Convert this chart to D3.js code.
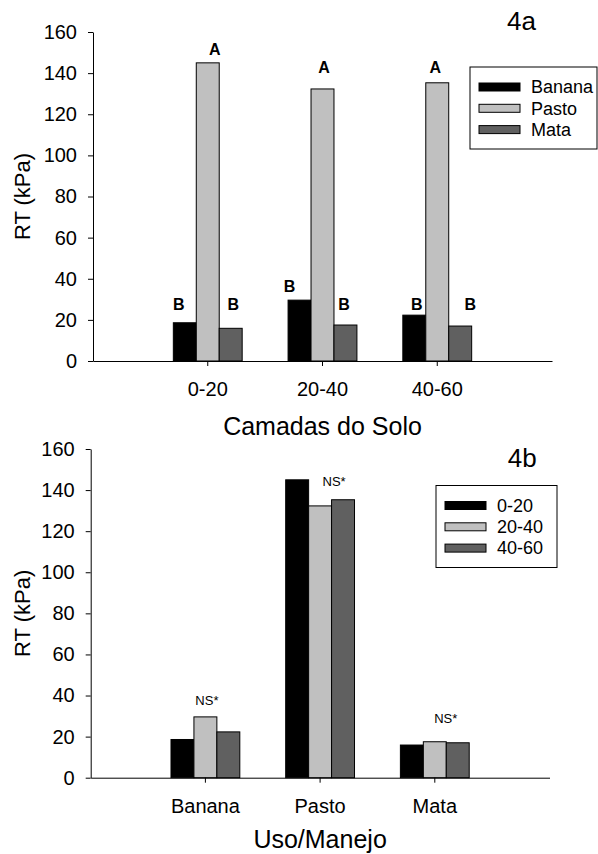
<!DOCTYPE html>
<html>
<head>
<meta charset="utf-8">
<script src="https://cdn.jsdelivr.net/npm/d3@7"></script>
<style>
  body { margin: 0; background: #fff; }
  svg { font-family: "Liberation Sans", Arial, sans-serif; }
  .axis path, .axis line { stroke: #000; stroke-width: 1px; }
  .axis text { fill: #000; }
</style>
</head>
<body>
<div id="chart"></div>
<script>

// soil layers and land uses
const layers = ["0-20", "20-40", "40-60"];
const uses = ["Banana", "Pasto", "Mata"];

// RT (kPa) for each use, by layer 0-20, 20-40, 40-60
const banana = [18.6, 29.6, 22.3];
const pasto = [145.0, 132.3, 135.3];
const mata = [15.9, 17.5, 17.0];

const yTicks = [0, 20, 40, 60, 80, 100, 120, 140, 160];

// letters of the mean test in 4a (per layer, per use) and the height they sit at (kPa)
const letters = [["B", "A", "B"], ["B", "A", "B"], ["B", "A", "B"]];
const letterLevel = [[24.8, 148.8, 24.8], [33.7, 140.1, 24.8], [24.8, 140.1, 24.8]];

// NS* marks in 4b (per use) and their height (kPa)
const nsText = ["NS*", "NS*", "NS*"];
const nsLevel = [35.4, 142.1, 26.5];

const colors = ["#000000", "#c0c0c0", "#606060"];

var matrix = [banana, pasto, mata];   // matrix[use][layer]

var svg = d3.select("#chart").append("svg")
    .attr("width", 598)
    .attr("height", 854);

function panel(opt) {
    var width = opt.right - opt.left,
        height = opt.bottom - opt.top;

    var g = svg.append("g")
        .attr("transform", "translate(" + opt.left + "," + opt.top + ")");

    // three groups sitting at 1/4, 2/4, 3/4 of the axis
    var x = d3.scaleBand()
        .domain(opt.cats)
        .range([0, width])
        .paddingInner(0.4)
        .paddingOuter(0.7);

    var xs = d3.scaleBand()
        .domain(opt.series)
        .range([0, x.bandwidth()]);

    var y = d3.scaleLinear()
        .domain([0, 160])
        .range([height, 0]);

    var color = d3.scaleOrdinal().domain(opt.series).range(colors);

    var groups = g.selectAll(".grp")
        .data(opt.cats.map(function (c, i) {
            return { cat: c, vals: opt.series.map(function (s, j) {
                return { s: s, v: opt.value(i, j), i: i, j: j };
            }) };
        }))
        .enter().append("g")
        .attr("class", "grp")
        .attr("transform", function (d) { return "translate(" + x(d.cat) + ",0)"; });

    groups.selectAll("rect")
        .data(function (d) { return d.vals; })
        .enter().append("rect")
        .attr("x", function (d) { return xs(d.s); })
        .attr("width", xs.bandwidth())
        .attr("y", function (d) { return y(d.v); })
        .attr("height", function (d) { return height - y(d.v); })
        .attr("fill", function (d) { return color(d.s); })
        .attr("stroke", "#000")
        .attr("stroke-width", 1);

    g.append("g")
        .attr("class", "axis")
        .attr("transform", "translate(0," + height + ")")
        .call(d3.axisBottom(x).tickSize(5).tickSizeOuter(0).tickPadding(16))
        .selectAll("text").style("font-size", "20px");

    g.append("g")
        .attr("class", "axis")
        .call(d3.axisLeft(y).tickValues(yTicks).tickSize(5).tickSizeOuter(0).tickPadding(11))
        .selectAll("text").style("font-size", "20px");

    g.selectAll(".axis .domain").attr("stroke", "#000");

    // legend
    var lg = svg.append("g")
        .attr("transform", "translate(" + opt.legend[0] + "," + opt.legend[1] + ")");
    lg.append("rect")
        .attr("width", opt.legend[2])
        .attr("height", 82)
        .attr("fill", "#fff")
        .attr("stroke", "#000");
    opt.series.forEach(function (s, j) {
        lg.append("rect")
            .attr("x", 9).attr("y", 16 + j * 21.3)
            .attr("width", 41).attr("height", 8)
            .attr("fill", color(s))
            .attr("stroke", "#000");
        lg.append("text")
            .attr("x", 61).attr("y", 20 + j * 21.3)
            .attr("dy", "0.35em")
            .style("font-size", "18px")
            .text(s);
    });

    // panel tag
    svg.append("text")
        .attr("x", opt.tag[1]).attr("y", opt.tag[2])
        .style("font-size", "26px")
        .text(opt.tag[0]);

    // axis titles
    svg.append("text")
        .attr("text-anchor", "middle")
        .attr("x", opt.left + width / 2)
        .attr("y", opt.titleY)
        .style("font-size", "25px")
        .text(opt.xTitle);

    svg.append("text")
        .attr("text-anchor", "middle")
        .attr("dominant-baseline", "central")
        .attr("transform", "translate(22," + (opt.top + height / 2) + ") rotate(-90)")
        .style("font-size", "22px")
        .text("RT (kPa)");

    return { g: g, x: x, xs: xs, y: y };
}

// 4a: layers on x, one bar per use
var a = panel({
    left: 93, right: 552, top: 32, bottom: 361,
    cats: layers, series: uses,
    value: function (i, j) { return matrix[j][i]; },
    legend: [470, 67, 127],
    tag: ["4a", 507, 30],
    titleY: 435,
    xTitle: "Camadas do Solo"
});

// small nudges so the letters sit where the original has them
var letterNudge = [[-6, 7, 2.5], [-10, 1.5, -1.5], [2.5, -2, 10]];

layers.forEach(function (l, i) {
    uses.forEach(function (u, j) {
        a.g.append("text")
            .attr("text-anchor", "middle")
            .attr("x", a.x(l) + a.xs(u) + a.xs.bandwidth() / 2 + letterNudge[i][j])
            .attr("y", a.y(letterLevel[i][j]))
            .style("font-size", "16px")
            .style("font-weight", "bold")
            .text(letters[i][j]);
    });
});

// 4b: uses on x, one bar per layer
var b = panel({
    left: 90.7, right: 549.5, top: 449, bottom: 777.7,
    cats: uses, series: layers,
    value: function (i, j) { return matrix[i][j]; },
    legend: [436, 485.5, 121],
    tag: ["4b", 507.7, 467],
    titleY: 848,
    xTitle: "Uso/Manejo"
});

var nsNudge = [1.5, 14, 11];

uses.forEach(function (u, i) {
    b.g.append("text")
        .attr("text-anchor", "middle")
        .attr("x", b.x(u) + b.x.bandwidth() / 2 + nsNudge[i])
        .attr("y", b.y(nsLevel[i]))
        .style("font-size", "13px")
        .text(nsText[i]);
});

</script>
</body>
</html>
